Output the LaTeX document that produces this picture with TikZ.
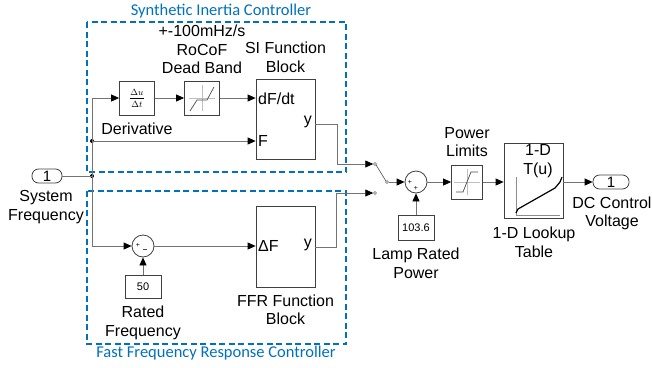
\documentclass[tikz,border=0pt]{standalone}
\usepackage{fontspec}
\setmainfont{Liberation Sans}
\newfontfamily\titlefont{Carlito}
\usetikzlibrary{arrows.meta,calc}
\definecolor{ctrlblue}{RGB}{0,112,192}

\begin{document}
\begin{tikzpicture}[x=1pt, y=-1pt,
    blk/.style={draw=black!75, fill=white, line width=0.8pt, inner sep=0pt},
    sig/.style={draw=black!55, line width=0.8pt, -{Triangle[length=8pt,width=7pt,color=black]}},
    wire/.style={draw=black!55, line width=0.8pt},
    icon/.style={draw=black!70, line width=0.7pt},
    axis/.style={draw=black!25, line width=0.5pt},
    lbl/.style={font=\fontsize{16}{18.5}\selectfont, align=center, inner sep=0pt},
    small/.style={font=\fontsize{11}{11}\selectfont, inner sep=0pt},
    ctrlbox/.style={draw=ctrlblue, line width=1.3pt, dash pattern=on 6pt off 3.5pt},
    ttl/.style={font=\titlefont\fontsize{16.5}{18}\selectfont, text=ctrlblue, inner sep=0pt},
    port/.style={draw=black!75, line width=0.8pt, rounded corners=6.5pt, minimum height=14pt, inner sep=0pt, font=\fontsize{15}{15}\selectfont},
    sumblk/.style={draw=black!75, line width=0.8pt, circle, minimum size=22pt, inner sep=0pt},
    jdot/.style={circle, fill=black, inner sep=0pt, minimum size=4pt},
    swpin/.style={circle, draw=black!60, line width=0.5pt, inner sep=0pt, minimum size=3pt}]
\useasboundingbox (0,0) rectangle (652,367);

\draw[ctrlbox] (87,22) rectangle (346,172);
\draw[ctrlbox] (87,191) rectangle (346,344);
\node[ttl] (sititle) at (221,11) {Synthetic Inertia Controller};
\node[ttl] (ffrtitle) at (216,353) {Fast Frequency Response Controller};

\node[port, minimum width=30pt] (in1) at (47,176) {1};
\node[lbl] (in1lbl) at (46,207) {System\\Frequency};
\node[jdot] (d1) at (92,176) {};
\node[jdot] (d2) at (92,141) {};

\node[blk, minimum width=35pt, minimum height=34pt, font=\fontsize{9.5}{9.5}\selectfont] (deriv) at (137,98) {$\displaystyle\frac{\Delta u}{\Delta t}$};
\node[lbl] (derivlbl) at (137,129) {Derivative};
\node[blk, minimum width=35pt, minimum height=34pt] (db) at (202,98) {};
\draw[axis] ([yshift=-13]db.center) -- ([yshift=13]db.center);
\draw[axis] ([xshift=-13]db.center) -- ([xshift=13]db.center);
\draw[icon] ([shift={(-12,13)}]db.center) -- ([shift={(-5,2)}]db.center) -- ([shift={(5,2)}]db.center) -- ([shift={(12,-11)}]db.center);
\node[lbl] (dblbl) at (202,49.5) {+-100mHz/s\\RoCoF\\Dead Band};

\node[blk, minimum width=59pt, minimum height=80pt] (si) at (285.5,119) {};
\node[lbl, anchor=west] (si-dfdt) at (258,99) {dF/dt};
\node[lbl, anchor=west] (si-f) at (258,141) {F};
\node[lbl, anchor=east] (si-y) at (312,122) {y};
\node[lbl] (silbl) at (285.5,57.5) {SI Function\\Block};

\node[sumblk] (sum1) at (143,246) {};
\node[font=\fontsize{7}{7}\selectfont, inner sep=0pt] at ([shift={(-5,-1)}]sum1.center) {+};
\draw[icon, line width=0.5pt] ([shift={(0,3)}]sum1.center) -- ([shift={(4,3)}]sum1.center);
\node[blk, minimum width=36pt, minimum height=23pt, small] (c50) at (143,287) {50};
\node[lbl] (c50lbl) at (143,323) {Rated\\Frequency};

\node[blk, minimum width=59pt, minimum height=81pt] (ffr) at (285.5,246.5) {};
\node[lbl, anchor=west] (ffr-df) at (258,246) {ΔF};
\node[lbl, anchor=east] (ffr-y) at (312,245) {y};
\node[lbl] (ffrlbl) at (285.5,310) {FFR Function\\Block};

\node[swpin] (swa) at (375,164) {};
\node[swpin] (swb) at (375,193) {};
\node[swpin] (swo) at (387,182) {};
\draw[icon, line width=0.6pt] (swa.south east) -- (swo.north west);

\node[sumblk] (sum2) at (416,182) {};
\node[font=\fontsize{7}{7}\selectfont, inner sep=0pt] at ([shift={(-6,0)}]sum2.center) {+};
\node[font=\fontsize{7}{7}\selectfont, inner sep=0pt] at ([shift={(0,6)}]sum2.center) {+};
\node[blk, minimum width=36pt, minimum height=25pt, small] (c103) at (416,228) {103.6};
\node[lbl] (c103lbl) at (416,263.5) {Lamp Rated\\Power};

\node[blk, minimum width=31pt, minimum height=34pt] (sat) at (467,182) {};
\draw[axis] ([yshift=-13]sat.center) -- ([yshift=13]sat.center);
\draw[axis] ([xshift=-13]sat.center) -- ([xshift=13]sat.center);
\draw[icon] ([shift={(-11,10)}]sat.center) -- ([shift={(-4,10)}]sat.center) -- ([shift={(4,-10)}]sat.center) -- ([shift={(11,-10)}]sat.center);
\node[lbl] (satlbl) at (467,142) {Power\\Limits};

\node[blk, minimum width=59pt, minimum height=75pt] (lut) at (533.5,180.5) {};
\node[lbl] (luttxt) at (538,161) {1-D\\T(u)};
\draw[axis, draw=black!45] (516,177) -- (516,215) -- (560,215);
\draw[line width=1.2pt] (516,213) -- (518,209) -- (555,188) -- (560,182) -- (562,177);
\node[lbl] (lutlbl) at (534,242.5) {1-D Lookup\\Table};

\node[port, minimum width=36pt] (out1) at (611,182) {1};
\node[lbl] (out1lbl) at (612,213.5) {DC Control\\Voltage};

\draw[wire] (in1.east) -- (d1.center);
\draw[sig] (d1.center) |- (deriv.west);
\draw[sig] (d2.center) -- (d2 -| si.west);
\draw[sig] (d1.center) |- (sum1.west);
\draw[sig] (deriv.east) -- (db.west);
\draw[sig] (db.east) -- (db.east -| si.west);
\draw[sig] (c50.north) -- (sum1.south);
\draw[sig] (sum1.east) -- (sum1.east -| ffr.west);
\draw[sig] (si.east |- 0,124) -- ++(22,0) |- (swa.west);
\draw[sig] (ffr.east |- 0,247) -- ++(21,0) |- (swb.west);
\draw[sig] (swo.east) -- (sum2.west);
\draw[sig] (c103.north) -- (sum2.south);
\draw[sig] (sum2.east) -- (sat.west);
\draw[sig] (sat.east) -- (sat.east -| lut.west);
\draw[sig] (lut.east |- out1) -- (out1.west);
\end{tikzpicture}
\end{document}
